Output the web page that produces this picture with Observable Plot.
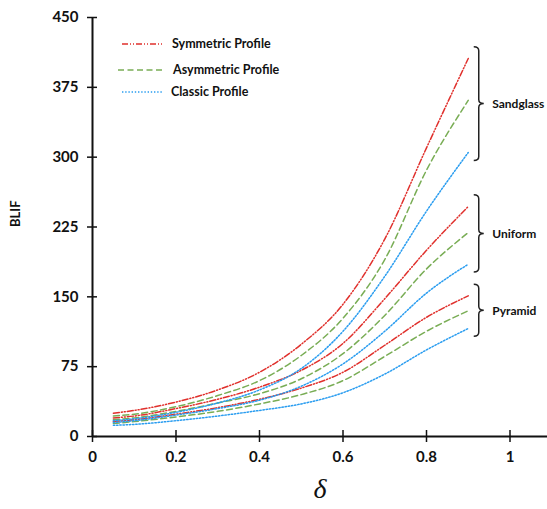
<!DOCTYPE html>
<html>
<head>
<meta charset="utf-8">
<script src="https://cdn.jsdelivr.net/npm/d3@7"></script>
<script src="https://cdn.jsdelivr.net/npm/@observablehq/plot@0.6"></script>
<style>
  html, body { margin: 0; padding: 0; background: #fff; }
  #wrap { position: relative; width: 547px; height: 509px; }
  .legend { position: absolute; left: 0; top: 0; font-family: Lato, sans-serif; font-weight: bold; font-size: 12.5px; color: #111; }
  .item { position: absolute; display: flex; align-items: center; white-space: nowrap; }
  .item svg { display: block; }
</style>
</head>
<body>
<div id="wrap"></div>
<script>
// ---- data ----
const delta = [0.05, 0.1, 0.2, 0.3, 0.4, 0.5, 0.6, 0.7, 0.8, 0.9];
const shapes = ["Sandglass", "Uniform", "Pyramid"];
const profiles = ["Symmetric Profile", "Asymmetric Profile", "Classic Profile"];

const sandglassSymmetric  = [25, 28, 37, 50, 69, 99, 142, 212, 310, 406];
const sandglassAsymmetric = [22, 24, 32, 44, 60, 87, 127, 190, 286, 361];
const sandglassClassic    = [17, 19, 26, 36, 50, 73, 113, 172, 242, 305];
const uniformSymmetric    = [20, 22, 30, 40, 53, 71, 100, 148, 200, 247];
const uniformAsymmetric   = [18, 20, 27, 36, 46, 62, 89, 130, 180, 219];
const uniformClassic      = [15, 17, 23, 30, 39, 54, 78, 113, 154, 185];
const pyramidSymmetric    = [16, 18, 24, 31, 40, 52, 69, 98, 128, 151];
const pyramidAsymmetric   = [14, 16, 21, 27, 35, 45, 60, 86, 113, 135];
const pyramidClassic      = [12, 13, 17, 22, 28, 35, 47, 67, 93, 116];

const xTicks = [0, 0.2, 0.4, 0.6, 0.8, 1];
const yTicks = [0, 75, 150, 225, 300, 375, 450];
const xLabel = "δ";
const yLabel = "BLIF";

// ---- build table ----
const seriesValues = {
  "Sandglass": [sandglassSymmetric, sandglassAsymmetric, sandglassClassic],
  "Uniform": [uniformSymmetric, uniformAsymmetric, uniformClassic],
  "Pyramid": [pyramidSymmetric, pyramidAsymmetric, pyramidClassic]
};
const rows = [];
for (const s of shapes) {
  profiles.forEach((p, j) => {
    seriesValues[s][j].forEach((v, i) => rows.push({shape: s, profile: p, x: delta[i], y: v}));
  });
}
const groupInfo = shapes.map(s => {
  const vals = rows.filter(d => d.shape === s);
  const lastX = d3.max(vals, d => d.x);
  const ends = vals.filter(d => d.x === lastX).map(d => d.y);
  const top = d3.max(ends) + 12, bottom = d3.min(ends) - 9;
  return {shape: s, x: lastX, top, bottom, mid: (top + bottom) / 2};
});

// ---- styles ----
const profileStyle = {
  "Symmetric Profile":  {stroke: "#e0302c", dash: "6,2,1,2,1,2", width: 1.5},
  "Asymmetric Profile": {stroke: "#79ad55", dash: "6,3.5", width: 1.5},
  "Classic Profile":    {stroke: "#2a9df0", dash: "1.4,1.8", width: 1.5}
};

const chart = Plot.plot({
  width: 547,
  height: 509,
  marginLeft: 92,
  marginRight: 0,
  marginTop: 17,
  marginBottom: 73,
  x: {domain: [0, 455 / 417.5]},
  y: {domain: [0, 450]},
  style: {fontFamily: "Lato, sans-serif", fontWeight: "bold", fontSize: "15px", color: "#111", background: "white", overflow: "visible"},
  marks: [
    ...profiles.map(p => Plot.line(rows.filter(d => d.profile === p), {
      x: "x", y: "y", z: "shape",
      stroke: profileStyle[p].stroke,
      strokeDasharray: profileStyle[p].dash,
      strokeWidth: profileStyle[p].width,
      curve: "monotone-x"
    })),
    Plot.ruleX([0], {stroke: "#111", strokeWidth: 2}),
    Plot.ruleY([0], {stroke: "#111", strokeWidth: 2}),
    Plot.ruleX(xTicks, {x: d => d, y1: 0, y2: 0, insetTop: -6, insetBottom: -6, stroke: "#111", strokeWidth: 1.5}),
    Plot.ruleY(yTicks, {y: d => d, x1: 0, x2: 0, insetLeft: -5, insetRight: -5, stroke: "#111", strokeWidth: 1.5}),
    Plot.axisX({ticks: xTicks, tickSize: 0, tickPadding: 15, tickFormat: d => String(d), label: null, fontSize: 15, fontWeight: "bold"}),
    Plot.axisY({ticks: yTicks, tickSize: 0, tickPadding: 14, tickFormat: d => String(d), label: null, fontSize: 15, fontWeight: "bold"}),
    Plot.text([yLabel], {frameAnchor: "left", dx: -77, rotate: -90, fontSize: 13, fontWeight: "bold"}),
    Plot.text([xLabel], {frameAnchor: "bottom", dy: 61, fontSize: 28, fontWeight: "normal", fontStyle: "italic", fontFamily: "'Liberation Serif', serif"}),
    Plot.text(groupInfo, {x: "x", y: "mid", text: "shape", dx: 24, textAnchor: "start", fontSize: 12, fontWeight: "bold"})
  ]
});

// braces drawn from the group extents via the chart's scales
const xs = chart.scale("x"), ys = chart.scale("y");
const svg = d3.select(chart);
for (const g of groupInfo) {
  const x0 = xs.apply(g.x) + 6;
  const xv = x0 + 5, xm = x0 + 10;
  const y0 = ys.apply(g.top), y1 = ys.apply(g.bottom), ym = (y0 + y1) / 2;
  const r = 4;
  const d = `M${x0},${y0} Q${xv},${y0} ${xv},${y0 + r} L${xv},${ym - r} Q${xv},${ym} ${xm},${ym} Q${xv},${ym} ${xv},${ym + r} L${xv},${y1 - r} Q${xv},${y1} ${x0},${y1}`;
  svg.append("path").attr("d", d).attr("fill", "none").attr("stroke", "#222").attr("stroke-width", 1.5);
}

const wrap = document.getElementById("wrap");
wrap.appendChild(chart);

// legend (inside plot area, top-left)
const legend = document.createElement("div");
legend.className = "legend";
const legendPos = [
  {lx: 122, lw: 40, y: 44, tx: 172},
  {lx: 118, lw: 44, y: 70, tx: 173},
  {lx: 122, lw: 41, y: 92, tx: 171}
];
profiles.forEach((p, i) => {
  const pos = legendPos[i];
  const line = document.createElement("div");
  line.className = "item";
  line.style.left = pos.lx + "px";
  line.style.top = (pos.y - 2) + "px";
  line.innerHTML = `<svg width="${pos.lw}" height="4"><line x1="0" y1="2" x2="${pos.lw}" y2="2" stroke="${profileStyle[p].stroke}" stroke-width="${profileStyle[p].width}" stroke-dasharray="${profileStyle[p].dash}"/></svg>`;
  legend.appendChild(line);
  const txt = document.createElement("div");
  txt.className = "item";
  txt.style.left = pos.tx + "px";
  txt.style.top = (pos.y - 8) + "px";
  txt.style.lineHeight = "16px";
  txt.textContent = p;
  legend.appendChild(txt);
});
wrap.appendChild(legend);
</script>
</body>
</html>
